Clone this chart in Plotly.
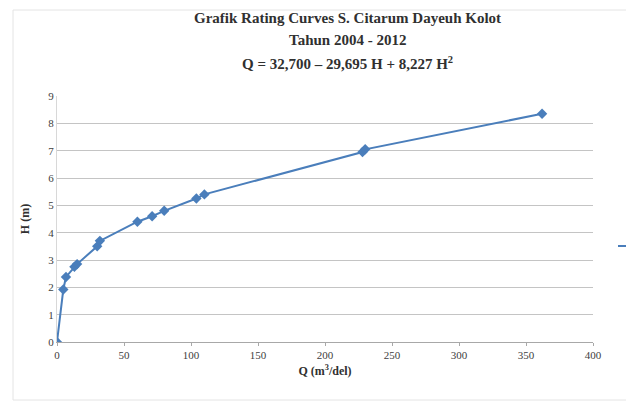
import plotly.graph_objects as go

q_values = [0, 4.7, 6.7, 13, 15, 30, 32, 60, 71, 80, 104, 110, 228, 230, 362]
h_values = [0, 1.92, 2.38, 2.75, 2.85, 3.5, 3.7, 4.4, 4.6, 4.8, 5.25, 5.4, 6.95, 7.05, 8.35]

title_lines = ["Grafik Rating Curves S. Citarum Dayeuh Kolot",
               "Tahun 2004 - 2012",
               "Q = 32,700 – 29,695 H + 8,227 H<sup>2</sup>"]
x_title = "<b>Q (m<sup>3</sup>/del)</b>"
y_title = "<b>H (m)</b>"
x_ticks = [0, 50, 100, 150, 200, 250, 300, 350, 400]
y_ticks = list(range(0, 10))

serif = "Liberation Serif, Times New Roman, serif"
blue = "#4a7ebb"
W, H = 626, 408
L, T = 57, 96
R = W - 593
B = H - 342
PW, PH = W - L - R, H - T - B


def px_x(px):
    return (px - L) / PW


def px_y(py):
    return (H - B - py) / PH


fig = go.Figure()
fig.add_trace(go.Scatter(
    x=q_values, y=h_values, mode="lines+markers", name="Series1",
    line=dict(color=blue, width=2),
    marker=dict(symbol="diamond", size=8, color=blue),
    showlegend=True,
))

fig.update_layout(
    width=W, height=H,
    margin=dict(l=L, r=R, t=T, b=B, autoexpand=False),
    paper_bgcolor="white", plot_bgcolor="white",
    font=dict(family=serif, color="#404040", size=11),
    showlegend=True,
    legend=dict(x=px_x(613), y=px_y(246), xanchor="left", yanchor="middle",
                font=dict(size=11, color="#404040"), bgcolor="rgba(0,0,0,0)"),
    xaxis=dict(range=[0, 400], tickvals=x_ticks, showgrid=False,
               showline=True, linecolor="#a8a8a8", linewidth=1,
               ticks="outside", ticklen=3, tickcolor="#a8a8a8",
               zeroline=False, tickfont=dict(size=11, family=serif, color="#404040"),
               title=dict(text=x_title, font=dict(size=12, family=serif, color="#303030"), standoff=6)),
    yaxis=dict(range=[0, 9], tickvals=y_ticks, showgrid=True, gridcolor="#c4c4c4", gridwidth=1,
               showline=True, linecolor="#d8d8d8", zeroline=False,
               ticks="", tickfont=dict(size=11, family=serif, color="#404040"),
               title=dict(text=y_title, font=dict(size=12, family=serif, color="#303030"), standoff=16)),
)

fig.add_shape(type="rect", xref="paper", yref="paper",
              x0=px_x(13), x1=px_x(680), y0=px_y(400), y1=px_y(10),
              line=dict(color="#e4e4e4", width=1), layer="below")

for txt, ypx in zip(title_lines, [18, 40, 63]):
    fig.add_annotation(text="<b>" + txt + "</b>", xref="paper", yref="paper",
                       x=px_x(347), y=px_y(ypx),
                       xanchor="center", yanchor="middle", showarrow=False,
                       font=dict(size=15, family=serif, color="#303030"))

fig.write_html("out.html", config={"displayModeBar": False},
               post_script="document.body.style.margin='0';document.body.style.overflow='hidden';")
